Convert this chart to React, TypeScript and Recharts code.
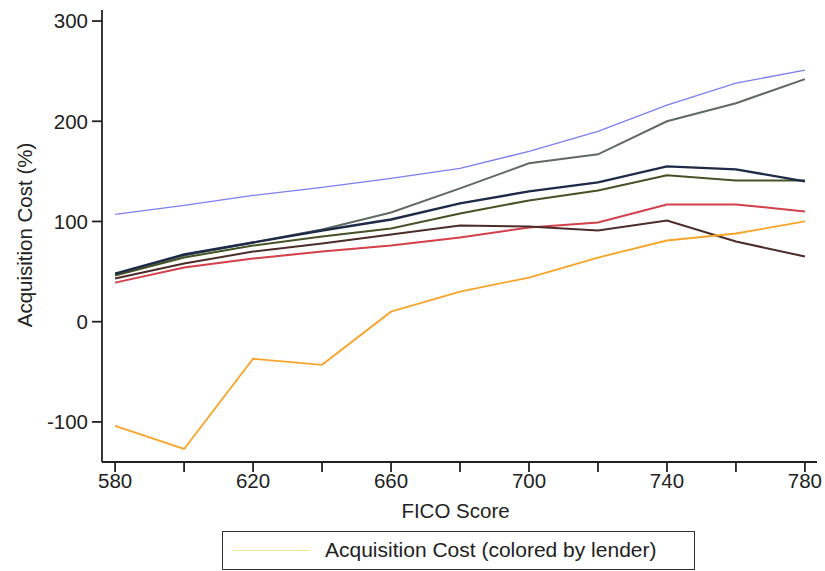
import React from 'react';
import { LineChart, Line, XAxis, YAxis, Legend, Label } from 'recharts';

const ficoScores = [580, 600, 620, 640, 660, 680, 700, 720, 740, 760, 780];
const lenderBlue = [107, 116, 126, 134, 143, 153, 170, 190, 216, 238, 251];
const lenderGray = [47, 66, 79, 92, 109, 133, 158, 167, 200, 218, 242];
const lenderNavy = [48, 67, 79, 91, 102, 118, 130, 139, 155, 152, 140];
const lenderGreen = [46, 64, 76, 85, 93, 108, 121, 131, 146, 141, 141];
const lenderBrown = [43, 58, 70, 78, 87, 96, 95, 91, 101, 80, 65];
const lenderRed = [39, 54, 63, 70, 76, 84, 94, 99, 117, 117, 110];
const lenderOrange = [-104, -127, -37, -43, 10, 30, 44, 64, 81, 88, 100];

const xTicks = [580, 600, 620, 640, 660, 680, 700, 720, 740, 760, 780];
const xTickLabels = ['580', '', '620', '', '660', '', '700', '', '740', '', '780'];
const yTicks = [-100, 0, 100, 200, 300];
const legendLabel = 'Acquisition Cost (colored by lender)';

const data = ficoScores.map((f, i) => ({
  fico: f,
  blue: lenderBlue[i],
  gray: lenderGray[i],
  navy: lenderNavy[i],
  green: lenderGreen[i],
  brown: lenderBrown[i],
  red: lenderRed[i],
  orange: lenderOrange[i],
}));

const FONT = '"Liberation Sans", Arial, Helvetica, sans-serif';

const LegendBox = () => (
  <div
    style={{
      width: 471,
      height: 37,
      border: '1.5px solid #333',
      background: '#fff',
      position: 'relative',
      fontFamily: FONT,
    }}
  >
    <div
      style={{
        position: 'absolute',
        left: 10,
        top: 18,
        width: 77,
        height: 0,
        borderTop: '1px solid #ecea8a',
      }}
    />
    <div
      style={{
        position: 'absolute',
        left: 102,
        top: 6,
        fontSize: 21,
        color: '#222',
        whiteSpace: 'nowrap',
        lineHeight: '24px',
      }}
    >
      {legendLabel}
    </div>
  </div>
);

const YLabel = () => (
  <text
    x={31.5}
    y={235}
    transform="rotate(-90, 31.5, 235)"
    textAnchor="middle"
    fontFamily={FONT}
    fontSize={20.5}
    fill="#222"
  >
    Acquisition Cost (%)
  </text>
);

const fmtX = (v: number) => {
  const i = xTicks.indexOf(v);
  return i >= 0 ? xTickLabels[i] : '';
};

export default function App() {
  return (
    <div style={{ position: 'absolute', left: 0, top: 0, width: 825, height: 571, background: '#fff' }}>
      <LineChart
        width={825}
        height={571}
        data={data}
        margin={{ top: 10, right: 8, bottom: 79, left: 0 }}
      >
        <XAxis
          dataKey="fico"
          type="number"
          domain={[576.2, 783.5]}
          allowDataOverflow
          ticks={xTicks}
          tickFormatter={fmtX}
          interval={0}
          height={30}
          tickSize={10}
          tickMargin={1}
          stroke="#222"
          strokeWidth={1.8}
          tick={{ fill: '#222', fontSize: 20.5, fontFamily: FONT }}
        >
          <Label
            value="FICO Score"
            position="bottom"
            offset={11}
            dx={-4}
            style={{ fill: '#222', fontSize: 20.5, fontFamily: FONT }}
          />
        </XAxis>
        <YAxis
          type="number"
          domain={[-140, 311]}
          allowDataOverflow
          ticks={yTicks}
          interval={0}
          width={102}
          tickSize={10}
          tickMargin={4}
          stroke="#222"
          strokeWidth={1.8}
          tick={{ fill: '#222', fontSize: 20.5, fontFamily: FONT }}
        >
          <Label content={<YLabel />} />
        </YAxis>
        <Legend
          layout="horizontal"
          verticalAlign="middle"
          align="center"
          content={<LegendBox />}
          wrapperStyle={{ position: 'absolute', left: 222, top: 531, width: 474, height: 40, margin: 0, padding: 0 }}
        />
        <Line type="linear" dataKey="blue" stroke="#7c7ef2" strokeWidth={1.3} dot={false} isAnimationActive={false} legendType="none" />
        <Line type="linear" dataKey="gray" stroke="#5e6a62" strokeWidth={2} dot={false} isAnimationActive={false} legendType="none" />
        <Line type="linear" dataKey="red" stroke="#d3404a" strokeWidth={2} dot={false} isAnimationActive={false} legendType="none" />
        <Line type="linear" dataKey="brown" stroke="#4b2c28" strokeWidth={2} dot={false} isAnimationActive={false} legendType="none" />
        <Line type="linear" dataKey="green" stroke="#465226" strokeWidth={2} dot={false} isAnimationActive={false} legendType="none" />
        <Line type="linear" dataKey="navy" stroke="#1d2a48" strokeWidth={2.4} dot={false} isAnimationActive={false} legendType="none" />
        <Line type="linear" dataKey="orange" stroke="#f7a52a" strokeWidth={1.8} dot={false} isAnimationActive={false} legendType="none" />
      </LineChart>
    </div>
  );
}
